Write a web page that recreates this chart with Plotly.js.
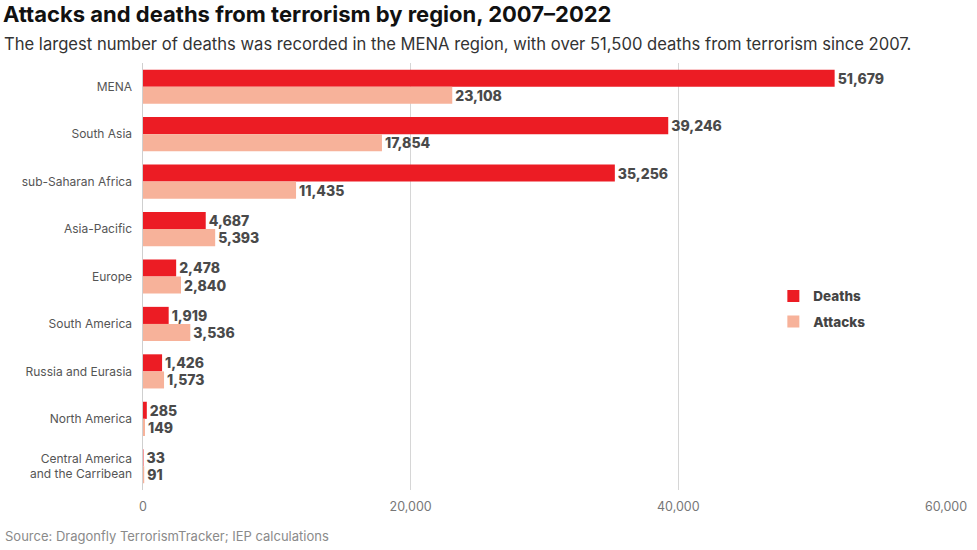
<!DOCTYPE html>
<html>
<head>
<meta charset="utf-8">
<script src="https://cdn.plot.ly/plotly-3.0.1.min.js"></script>
<style>html,body{margin:0;padding:0;background:#fff;}#chart{width:977px;height:550px;}</style>
</head>
<body>
<div id="chart"></div>
<script>
const regions = ["MENA","South Asia","sub-Saharan Africa","Asia-Pacific","Europe","South America","Russia and Eurasia","North America","Central America<br>and the Carribean"];
const deaths = [51679,39246,35256,4687,2478,1919,1426,285,33];
const attacks = [23108,17854,11435,5393,2840,3536,1573,149,91];
const xTicks = [0,20000,40000,60000];
const xTickLabels = ["0","20,000","40,000","60,000"];

const fmt = v => v.toLocaleString("en-US");
const labelFont = {family:"Inter, 'DejaVu Sans', sans-serif", size:14, color:"#4a4a4a", weight:800};

const traces = [
  {type:"bar", orientation:"h", name:"Deaths", y:regions, x:deaths, legendgroup:"d",
   marker:{color:"#ec1c24"}, text:deaths.map(fmt), textposition:"outside",
   textfont:labelFont, cliponaxis:false, hoverinfo:"x+y"},
  {type:"bar", orientation:"h", name:"Attacks", y:regions, x:attacks, legendgroup:"a",
   marker:{color:"#f7b29a"}, text:attacks.map(fmt), textposition:"outside",
   textfont:labelFont, cliponaxis:false, hoverinfo:"x+y"}
];

const layout = {
  width:977, height:550,
  margin:{l:143, r:31, t:63, b:60},
  paper_bgcolor:"#fff", plot_bgcolor:"#fff",
  barmode:"group", bargap:0.28, bargroupgap:0,
  font:{family:"Inter, 'DejaVu Sans', sans-serif", color:"#555"},
  xaxis:{range:[0,60000], tickvals:xTicks, ticktext:xTickLabels,
    showgrid:true, gridcolor:"#d6d6d6", gridwidth:1.5, zeroline:false,
    showline:false, ticks:"", tickfont:{size:12.5, color:"#777"}, ticklabelstandoff:7},
  yaxis:{autorange:"reversed", showgrid:false, zeroline:false,
    showline:true, linecolor:"#cfcfcf", linewidth:1.5, ticks:"",
    tickfont:{size:12, color:"#555"}, ticklabelstandoff:7},
  showlegend:true,
  legend:{x:0.785, y:0.49, xanchor:"left", yanchor:"top", traceorder:"grouped",
    font:{size:13.5, color:"#444", weight:800}, itemwidth:30, tracegroupgap:5, bgcolor:"rgba(0,0,0,0)"},
  annotations:[
    {xref:"paper", yref:"paper", x:-143/803+1/803, y:1+(63-14)/427, xanchor:"left", yanchor:"middle",
     text:"<b>Attacks and deaths from terrorism by region, 2007–2022</b>", showarrow:false,
     font:{size:22, color:"#111", family:"Inter, 'DejaVu Sans', sans-serif", weight:900}},
    {xref:"paper", yref:"paper", x:-143/803+2/803, y:1+(63-44)/427, xanchor:"left", yanchor:"middle",
     text:"The largest number of deaths was recorded in the MENA region, with over 51,500 deaths from terrorism since 2007.", showarrow:false,
     font:{size:16.6, color:"#333"}},
    {xref:"paper", yref:"paper", x:-143/803+3/803, y:-(536-490)/427, xanchor:"left", yanchor:"middle",
     text:"Source: Dragonfly TerrorismTracker; IEP calculations", showarrow:false,
     font:{size:13, color:"#8a8a8a"}}
  ]
};

Plotly.newPlot("chart", traces, layout, {displayModeBar:false, staticPlot:true});
</script>
</body>
</html>
